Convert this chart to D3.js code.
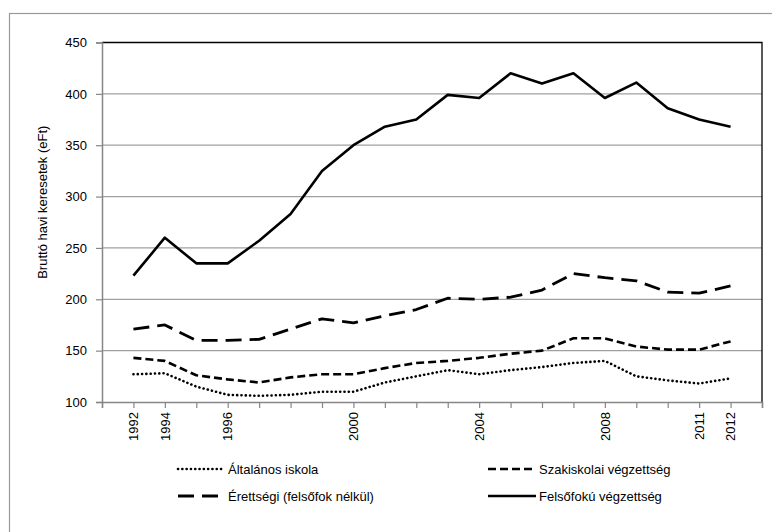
<!DOCTYPE html>
<html><head><meta charset="utf-8">
<script src="https://cdn.jsdelivr.net/npm/d3@7"></script>
<style>body{margin:0;background:#fff}svg{display:block;font-family:"Liberation Sans",Arial,sans-serif}</style>
</head><body><svg id="c" width="772" height="532"></svg>
<script>
const years = ["1992","1994","1995","1996","1997","1998","1999","2000","2001","2002","2003","2004","2005","2006","2007","2008","2009","2010","2011","2012"];
const shownLabels = ["1992","1994","1996","2000","2004","2008","2011","2012"];
const yTicks = [100,150,200,250,300,350,400,450];
const altalanos = [127,128,115,107,106,107,110,110,119,125,131,127,131,134,138,140,125,121,118,123];
const szakiskolai = [143,140,126,122,119,124,127,127,133,138,140,143,147,150,162,162,154,151,151,159];
const erettsegi = [171,175,160,160,161,171,181,177,184,190,201,200,202,209,225,221,218,207,206,213];
const felsofoku = [223,260,235,235,257,283,325,350,368,375,399,396,420,410,420,396,411,386,375,368];
const seriesNames = ["Általános iskola","Szakiskolai végzettség","Érettségi (felsőfok nélkül)","Felsőfokú végzettség"];
const yTitle = "Bruttó havi keresetek (eFt)";

const svg = d3.select("#c");
const L=102, R=762, T=42.5, B=402;
svg.append("rect").attr("x",9.5).attr("y",13.5).attr("width",900).attr("height",900).attr("fill","none").attr("stroke","#999").attr("stroke-width",1.2);

const x = d3.scaleLinear().domain([0, years.length+1]).range([L,R]);
const y = d3.scaleLinear().domain([100,450]).range([B,T]);

// gridlines
svg.append("g").selectAll("line").data(yTicks.filter(v=>v>100&&v<450)).join("line")
  .attr("x1",L).attr("x2",R).attr("y1",d=>y(d)).attr("y2",d=>y(d)).attr("stroke","#a0a0a0").attr("stroke-width",1.3);
// plot border top & right
svg.append("path").attr("d",`M${L},${y(450)}H${R}V${B}`).attr("fill","none").attr("stroke","#000").attr("stroke-width",1.3);

// y axis
const ya = svg.append("g").attr("transform",`translate(${L},0)`)
  .call(d3.axisLeft(y).tickValues(yTicks).tickSize(6).tickPadding(9).tickFormat(d3.format("d")));
ya.select(".domain").attr("stroke","#868686").attr("stroke-width",1.5);
ya.selectAll(".tick line").attr("stroke","#868686").attr("stroke-width",1.2);
ya.selectAll("text").attr("font-size",13).attr("fill","#000").attr("font-family","Liberation Sans, Arial");

// x axis
const tickIdx = d3.range(0, years.length+2);
const xa = svg.append("g").attr("transform",`translate(0,${B})`)
  .call(d3.axisBottom(x).tickValues(tickIdx).tickSize(6).tickFormat(i => (i>=1 && i<=years.length && shownLabels.includes(years[i-1])) ? years[i-1] : ""));
xa.select(".domain").attr("stroke","#868686").attr("stroke-width",1.5);
xa.selectAll(".tick line").attr("stroke","#868686").attr("stroke-width",1.2);
xa.selectAll("text").attr("font-size",13).attr("fill","#000").attr("font-family","Liberation Sans, Arial")
  .attr("transform","rotate(-90)").attr("text-anchor","end").attr("dx","-10").attr("y",0).attr("x",0)
  .attr("dy","0.32em");

// y title
svg.append("text").attr("transform",`translate(42,${(T+B)/2-20}) rotate(-90)`).attr("text-anchor","middle")
  .attr("dy","0.35em").attr("font-size",13).text(yTitle);

const styles = [
  {data: altalanos, dash:"0.1,4.2", cap:"round", w:2.6},
  {data: szakiskolai, dash:"8,4", cap:"butt", w:2.6},
  {data: erettsegi, dash:"16,8", cap:"butt", w:2.8},
  {data: felsofoku, dash:null, cap:"butt", w:2.6}
];
const line = d3.line().x((d,i)=>x(i+1)).y(d=>y(d));
styles.forEach(s=>{
  svg.append("path").attr("d",line(s.data)).attr("fill","none").attr("stroke","#000")
    .attr("stroke-width",s.w).attr("stroke-dasharray",s.dash).attr("stroke-linecap",s.cap).attr("stroke-linejoin","round");
});

// legend
const leg = [
  {x1:178,x2:224,tx:228,y:469},
  {x1:488,x2:536,tx:539,y:469},
  {x1:178,x2:224,tx:228,y:496},
  {x1:488,x2:536,tx:539,y:496}
];
leg.forEach((p,i)=>{
  const s=styles[i];
  svg.append("line").attr("x1",p.x1).attr("x2",p.x2).attr("y1",p.y).attr("y2",p.y).attr("stroke","#000")
    .attr("stroke-width",s.w).attr("stroke-dasharray",s.dash).attr("stroke-linecap",s.cap);
  svg.append("text").attr("x",p.tx).attr("y",p.y).attr("dy","0.35em").attr("font-size",13).text(seriesNames[i]);
});
</script></body></html>
